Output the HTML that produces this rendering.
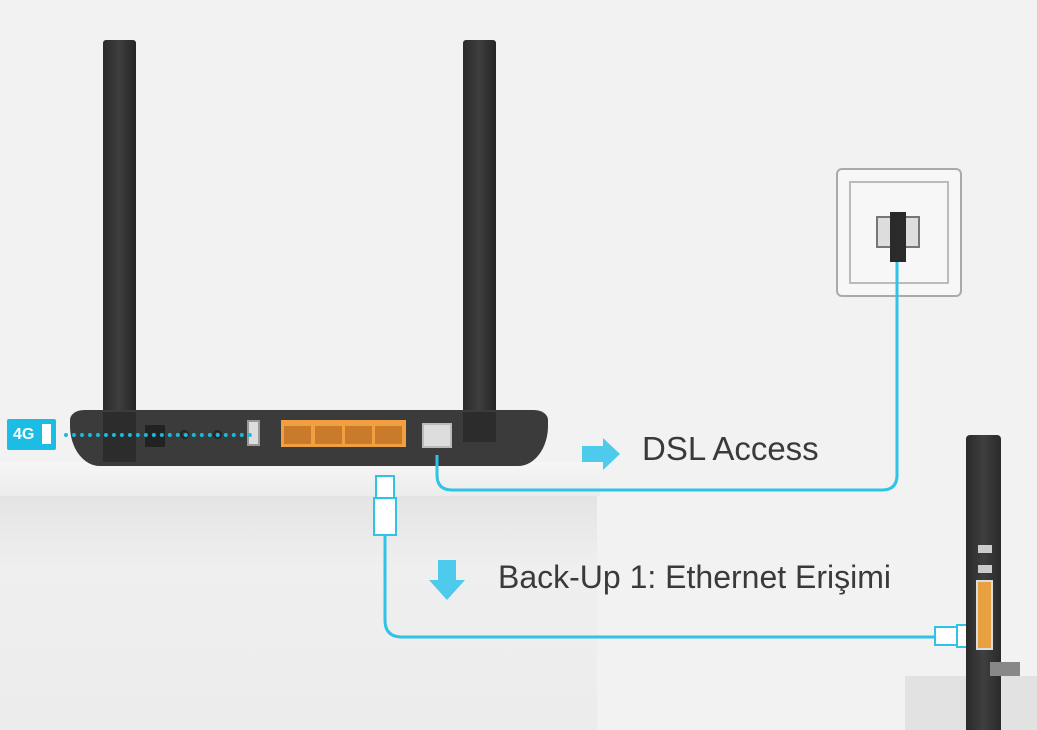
<!DOCTYPE html>
<html><head><meta charset="utf-8"><style>
body{margin:0;width:1037px;height:730px;overflow:hidden;background:#f2f2f2;font-family:"Liberation Sans",sans-serif;position:relative}
div{position:absolute;box-sizing:border-box}
.t{color:#3a3a3a;font-size:33px;white-space:nowrap}
</style></head><body>
<div style="left:0;top:462px;width:600px;height:34px;background:linear-gradient(#f6f6f6,#ececec)"></div>
<div style="left:0;top:496px;width:597px;height:234px;background:linear-gradient(#e4e4e4,#efefef 30%,#ececec)"></div>
<div style="left:905px;top:676px;width:132px;height:54px;background:#e2e2e2"></div>
<div style="left:103px;top:40px;width:33px;height:425px;background:linear-gradient(90deg,#2a2a2a,#3e3e3e 50%,#242424);border-radius:3px"></div>
<div style="left:463px;top:40px;width:33px;height:410px;background:linear-gradient(90deg,#2a2a2a,#3e3e3e 50%,#242424);border-radius:3px"></div>
<div style="left:70px;top:410px;width:478px;height:56px;background:#3b3b3b;border-radius:14px 14px 30px 30px/10px 10px 40px 40px"></div>
<div style="left:103px;top:412px;width:33px;height:50px;background:#2c2c2c"></div>
<div style="left:463px;top:412px;width:33px;height:30px;background:#2c2c2c"></div>
<div style="left:145px;top:425px;width:20px;height:22px;background:#222"></div>
<div style="left:180px;top:430px;width:9px;height:9px;border-radius:50%;border:2px solid #222"></div>
<div style="left:213px;top:430px;width:9px;height:9px;border-radius:50%;border:2px solid #222"></div>
<div style="left:247px;top:420px;width:13px;height:26px;background:#ddd;border:2px solid #999"></div>
<div style="left:281px;top:420px;width:125px;height:27px;background:#f0a040"></div>
<div style="left:284px;top:426px;width:27px;height:18px;background:#c97a2a"></div>
<div style="left:315px;top:426px;width:27px;height:18px;background:#c97a2a"></div>
<div style="left:345px;top:426px;width:27px;height:18px;background:#c97a2a"></div>
<div style="left:375px;top:426px;width:27px;height:18px;background:#c97a2a"></div>
<div style="left:422px;top:423px;width:30px;height:25px;background:#ddd;border:2px solid #bbb"></div>
<div style="left:7px;top:419px;width:49px;height:31px;background:#1bbde5;border-radius:2px;color:#fff;font-weight:bold;font-size:16px;line-height:31px;padding-left:6px">4G</div>
<div style="left:42px;top:424px;width:9px;height:20px;background:#fff"></div>
<div style="left:64px;top:433px;width:188px;height:4px;border-top:4px dotted #1ab8dc"></div>
<div style="left:836px;top:168px;width:126px;height:129px;background:#f7f7f7;border:2px solid #aaa;border-radius:6px"></div>
<div style="left:849px;top:181px;width:100px;height:103px;border:2px solid #bbb"></div>
<div style="left:876px;top:216px;width:44px;height:32px;background:#ddd;border:2px solid #777"></div>
<div style="left:890px;top:212px;width:16px;height:50px;background:#2a2a2a"></div>
<svg style="position:absolute;left:0;top:0" width="1037" height="730">
<path d="M437 455 V475 Q437 490 452 490 H882 Q897 490 897 475 V262" fill="none" stroke="#2fc3e8" stroke-width="3"/>
<path d="M385 535 V620 Q385 637 402 637 H935" fill="none" stroke="#2fc3e8" stroke-width="3"/>
<rect x="376" y="476" width="18" height="22" fill="#fff" stroke="#2fc3e8" stroke-width="2"/>
<path d="M374 498 H396 V535 H374 Z" fill="#fff" stroke="#2fc3e8" stroke-width="2"/>
<rect x="935" y="627" width="22" height="18" fill="#fff" stroke="#2fc3e8" stroke-width="2"/>
<rect x="957" y="625" width="22" height="22" fill="#fff" stroke="#2fc3e8" stroke-width="2"/>
<path d="M582 446 H603 V438 L620 454 L603 470 V462 H582 Z" fill="#4ecbec"/>
<path d="M438 560 H456 V580 H465 L447 600 L429 580 H438 Z" fill="#4ecbec"/>
</svg>
<div class="t" style="left:642px;top:430px">DSL Access</div>
<div class="t" style="left:498px;top:559px;font-size:32px">Back-Up 1: Ethernet Erişimi</div>
<div style="left:966px;top:435px;width:35px;height:295px;background:linear-gradient(90deg,#2a2a2a,#3f3f3f 50%,#2a2a2a);border-radius:4px 4px 0 0"></div>
<div style="left:978px;top:545px;width:14px;height:8px;background:#ccc"></div>
<div style="left:978px;top:565px;width:14px;height:8px;background:#ccc"></div>
<div style="left:976px;top:580px;width:17px;height:70px;background:#e8a040;border:2px solid #ddd"></div>
<div style="left:990px;top:662px;width:30px;height:14px;background:#888"></div>
</body></html>
